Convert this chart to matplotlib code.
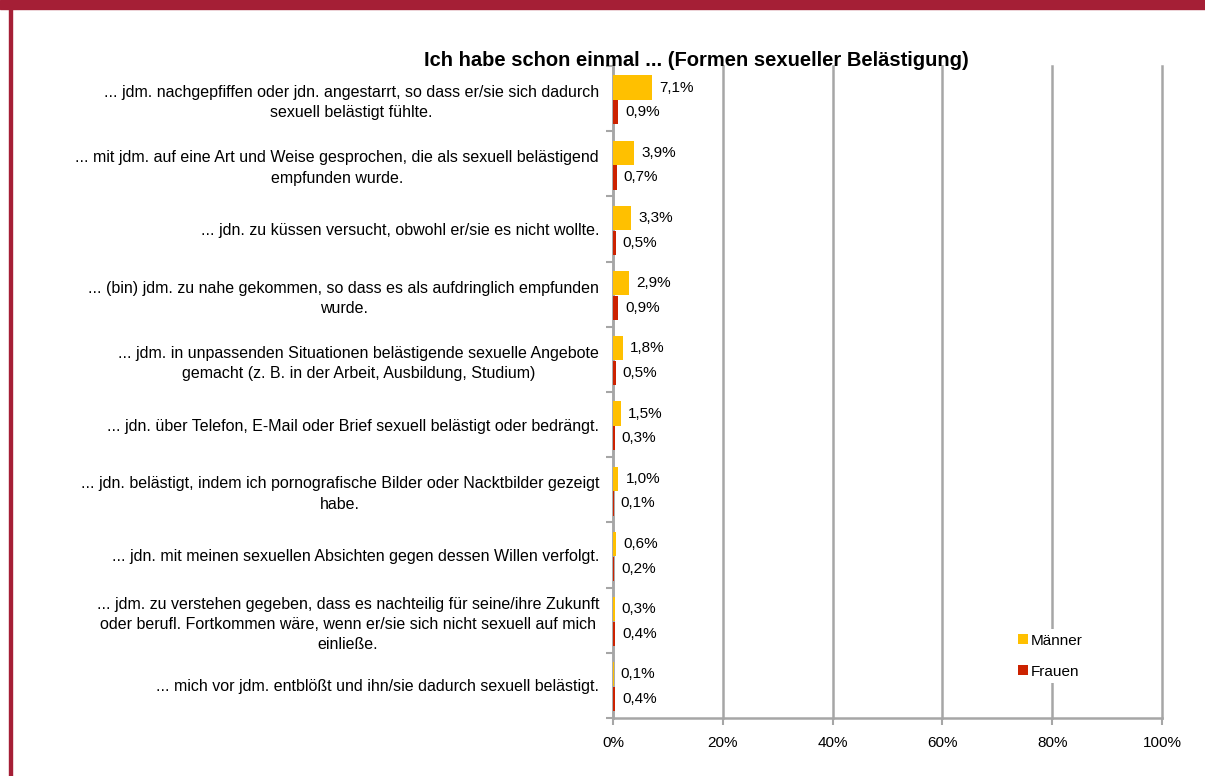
import numpy as np
import matplotlib.pyplot as plt
from matplotlib.patches import Rectangle

plt.rcParams['font.family'] = ['Liberation Sans', 'DejaVu Sans']

labels = [
    "... jdm. nachgepfiffen oder jdn. angestarrt, so dass er/sie sich dadurch\nsexuell belästigt fühlte.",
    "... mit jdm. auf eine Art und Weise gesprochen, die als sexuell belästigend\nempfunden wurde.",
    "... jdn. zu küssen versucht, obwohl er/sie es nicht wollte.",
    "... (bin) jdm. zu nahe gekommen, so dass es als aufdringlich empfunden\nwurde.",
    "... jdm. in unpassenden Situationen belästigende sexuelle Angebote\ngemacht (z. B. in der Arbeit, Ausbildung, Studium)",
    "... jdn. über Telefon, E-Mail oder Brief sexuell belästigt oder bedrängt.",
    "... jdn. belästigt, indem ich pornografische Bilder oder Nacktbilder gezeigt\nhabe.",
    "... jdn. mit meinen sexuellen Absichten gegen dessen Willen verfolgt.",
    "... jdm. zu verstehen gegeben, dass es nachteilig für seine/ihre Zukunft\noder berufl. Fortkommen wäre, wenn er/sie sich nicht sexuell auf mich\neinließe.",
    "... mich vor jdm. entblößt und ihn/sie dadurch sexuell belästigt.",
]
maenner = [7.1, 3.9, 3.3, 2.9, 1.8, 1.5, 1.0, 0.6, 0.3, 0.1]
frauen = [0.9, 0.7, 0.5, 0.9, 0.5, 0.3, 0.1, 0.2, 0.4, 0.4]
xticks = [0, 20, 40, 60, 80, 100]

gelb = '#FFC000'
rot = '#CC2200'
grau = '#A6A6A6'
rahmen = '#A51F36'
fs = 11
fs_lab = 11.5

fig = plt.figure(figsize=(12.05, 7.76), dpi=100)
ax = fig.add_axes([613 / 1205, 1 - 718 / 776, 549 / 1205, 652 / 776])

y = np.arange(len(labels))
h = 0.37
ax.barh(y - 0.17, maenner, height=h, color=gelb, label='Männer', zorder=3)
ax.barh(y + 0.21, frauen, height=h, color=rot, label='Frauen', zorder=3)

for i in range(len(labels)):
    ax.annotate(f"{maenner[i]:.1f}%".replace('.', ','), (maenner[i], y[i] - 0.17),
                xytext=(5, 0), textcoords='offset points', va='center', fontsize=fs)
    ax.annotate(f"{frauen[i]:.1f}%".replace('.', ','), (frauen[i], y[i] + 0.21),
                xytext=(5, 0), textcoords='offset points', va='center', fontsize=fs)

ax.set_xlim(0, 100)
ax.set_ylim(len(labels) - 0.5, -0.5)
ax.set_xticks(xticks)
ax.set_xticklabels([f"{t}%" for t in xticks], fontsize=fs)
ax.set_yticks(y)
ax.set_yticklabels(labels, fontsize=fs_lab, multialignment='center', linespacing=1.45)
ax.set_yticks(np.arange(len(labels) + 1) - 0.5, minor=True)
ax.tick_params(axis='y', which='major', length=0, pad=10)
ax.tick_params(axis='y', which='minor', length=5, color=grau, width=1.5)
ax.tick_params(axis='x', length=5, color=grau, width=1.5, pad=8)

ax.grid(axis='x', color=grau, linewidth=1.8, zorder=0)
for line in ax.get_xgridlines():
    line.set_clip_on(False)
for s in ['top', 'right']:
    ax.spines[s].set_visible(False)
for s in ['left', 'bottom']:
    ax.spines[s].set_color(grau)
    ax.spines[s].set_linewidth(1.8)

leg = ax.legend(loc='upper left', bbox_to_anchor=(0.715, 0.148), fontsize=fs,
                handlelength=0.65, handleheight=0.65, handletextpad=0.2,
                labelspacing=1.1, borderpad=0.3, framealpha=1,
                edgecolor='none', fancybox=False)

fig.text(696 / 1205, 1 - 60 / 776, "Ich habe schon einmal ... (Formen sexueller Belästigung)",
         ha='center', va='center', fontsize=14.5, fontweight='bold')

# Rahmen oben und links
fig.patches.append(Rectangle((0, 1 - 9 / 776), 1, 9 / 776, transform=fig.transFigure,
                             color=rahmen, zorder=10))
fig.patches.append(Rectangle((9 / 1205, 0), 3 / 1205, 1, transform=fig.transFigure,
                             color=rahmen, zorder=10))

fig.savefig('out.png', dpi=100)
